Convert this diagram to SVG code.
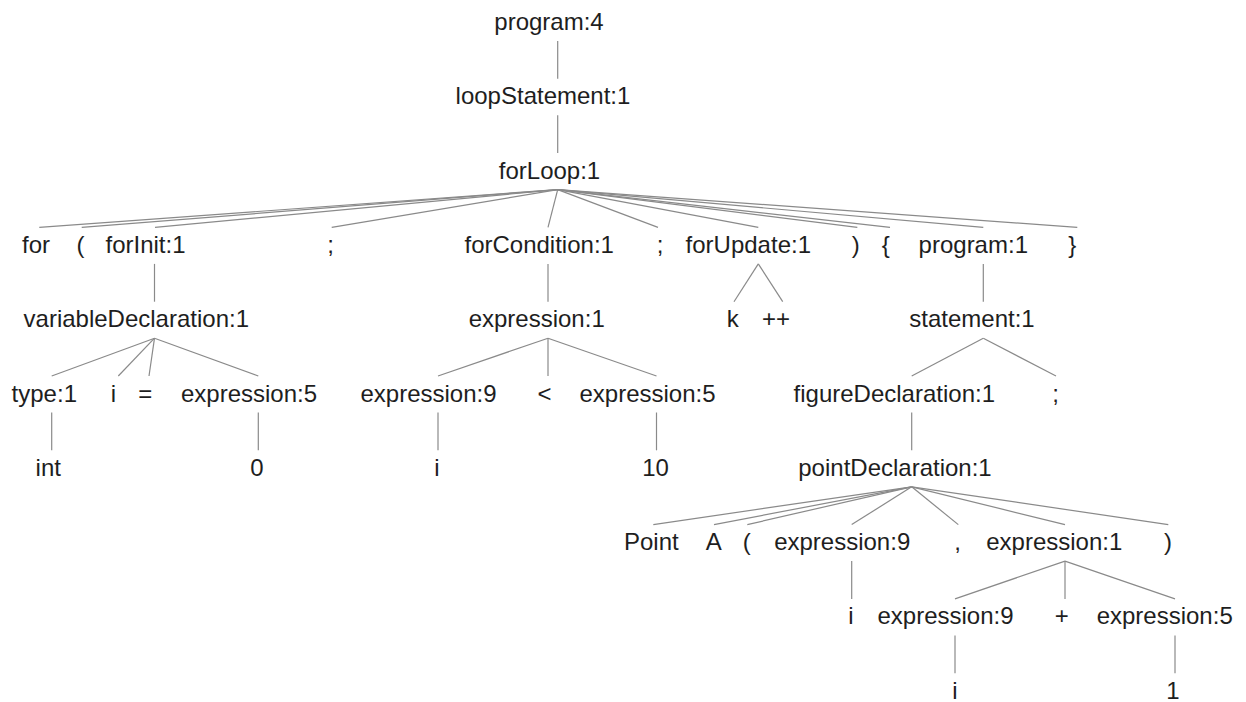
<svg xmlns="http://www.w3.org/2000/svg" width="1246" height="702" viewBox="0 0 1246 702">
<style>
text{font-family:"Liberation Sans",Arial,Helvetica,sans-serif;font-size:24px;fill:#1e1e1e;text-anchor:middle}
#edges line{stroke:#8a8a8a;stroke-width:1.2;fill:none}
</style>
<rect width="1246" height="702" fill="#ffffff"/>
<g id="edges">
<line x1="557.7" y1="41" x2="557.7" y2="78.8"/>
<line x1="557.7" y1="115.3" x2="557.7" y2="153.1"/>
<line x1="557.7" y1="189.6" x2="39.3" y2="227.4"/>
<line x1="557.7" y1="189.6" x2="81.7" y2="227.4"/>
<line x1="557.7" y1="189.6" x2="155" y2="227.4"/>
<line x1="557.7" y1="189.6" x2="331.7" y2="227.4"/>
<line x1="557.7" y1="189.6" x2="548" y2="227.4"/>
<line x1="557.7" y1="189.6" x2="658" y2="227.4"/>
<line x1="557.7" y1="189.6" x2="758.3" y2="227.4"/>
<line x1="557.7" y1="189.6" x2="857.3" y2="227.4"/>
<line x1="557.7" y1="189.6" x2="890" y2="227.4"/>
<line x1="557.7" y1="189.6" x2="983.3" y2="227.4"/>
<line x1="557.7" y1="189.6" x2="1077.3" y2="227.4"/>
<line x1="154.5" y1="263.9" x2="154.5" y2="301.7"/>
<line x1="548" y1="263.9" x2="548" y2="301.7"/>
<line x1="758.3" y1="263.9" x2="734" y2="301.7"/>
<line x1="758.3" y1="263.9" x2="782.7" y2="301.7"/>
<line x1="983.3" y1="263.9" x2="983.3" y2="301.7"/>
<line x1="154.5" y1="338.2" x2="51.7" y2="376"/>
<line x1="154.5" y1="338.2" x2="118.3" y2="376"/>
<line x1="154.5" y1="338.2" x2="149" y2="376"/>
<line x1="154.5" y1="338.2" x2="258.3" y2="376"/>
<line x1="548" y1="338.2" x2="438" y2="376"/>
<line x1="548" y1="338.2" x2="548" y2="376"/>
<line x1="548" y1="338.2" x2="656.5" y2="376"/>
<line x1="983.3" y1="338.2" x2="911.7" y2="376"/>
<line x1="983.3" y1="338.2" x2="1056" y2="376"/>
<line x1="51.7" y1="412.5" x2="51.7" y2="450.3"/>
<line x1="258.3" y1="412.5" x2="258.3" y2="450.3"/>
<line x1="438" y1="412.5" x2="438" y2="450.3"/>
<line x1="656.5" y1="412.5" x2="656.5" y2="450.3"/>
<line x1="911.7" y1="412.5" x2="911.7" y2="450.3"/>
<line x1="911.7" y1="486.8" x2="653.3" y2="524.6"/>
<line x1="911.7" y1="486.8" x2="714" y2="524.6"/>
<line x1="911.7" y1="486.8" x2="747.3" y2="524.6"/>
<line x1="911.7" y1="486.8" x2="851.7" y2="524.6"/>
<line x1="911.7" y1="486.8" x2="958.3" y2="524.6"/>
<line x1="911.7" y1="486.8" x2="1065" y2="524.6"/>
<line x1="911.7" y1="486.8" x2="1168.3" y2="524.6"/>
<line x1="851.7" y1="561.1" x2="851.7" y2="598.9"/>
<line x1="1065" y1="561.1" x2="955" y2="598.9"/>
<line x1="1065" y1="561.1" x2="1065" y2="598.9"/>
<line x1="1065" y1="561.1" x2="1175" y2="598.9"/>
<line x1="955" y1="635.4" x2="955" y2="673.2"/>
<line x1="1175" y1="635.4" x2="1175" y2="673.2"/>
</g>
<g id="n-program4"><text x="549" y="30">program:4</text></g>
<g id="n-loopStatement"><text x="543" y="104.3">loopStatement:1</text></g>
<g id="n-forLoop"><text x="549.5" y="178.6">forLoop:1</text></g>
<g id="n-for"><text x="36" y="252.9">for</text></g>
<g id="n-lparen1"><text x="80.5" y="252.9">(</text></g>
<g id="n-forInit"><text x="145.5" y="252.9">forInit:1</text></g>
<g id="n-semi1"><text x="330.5" y="252.9">;</text></g>
<g id="n-forCondition"><text x="539.2" y="252.9">forCondition:1</text></g>
<g id="n-semi2"><text x="660" y="252.9">;</text></g>
<g id="n-forUpdate"><text x="748.3" y="252.9">forUpdate:1</text></g>
<g id="n-rparen1"><text x="855.7" y="252.9">)</text></g>
<g id="n-lbrace"><text x="885.8" y="252.9">{</text></g>
<g id="n-program1"><text x="973.3" y="252.9">program:1</text></g>
<g id="n-rbrace"><text x="1072.2" y="252.9">}</text></g>
<g id="n-variableDeclaration"><text x="136.3" y="327.2">variableDeclaration:1</text></g>
<g id="n-expression1a"><text x="536.7" y="327.2">expression:1</text></g>
<g id="n-k"><text x="732.8" y="327.2">k</text></g>
<g id="n-plusplus"><text x="776" y="327.2">++</text></g>
<g id="n-statement"><text x="972" y="327.2">statement:1</text></g>
<g id="n-type"><text x="44.3" y="401.5">type:1</text></g>
<g id="n-i1"><text x="113.3" y="401.5">i</text></g>
<g id="n-eq"><text x="145.3" y="401.5">=</text></g>
<g id="n-expression5a"><text x="249" y="401.5">expression:5</text></g>
<g id="n-expression9a"><text x="428.5" y="401.5">expression:9</text></g>
<g id="n-lt"><text x="544.5" y="401.5">&lt;</text></g>
<g id="n-expression5b"><text x="647.5" y="401.5">expression:5</text></g>
<g id="n-figureDeclaration"><text x="894.3" y="401.5">figureDeclaration:1</text></g>
<g id="n-semi3"><text x="1055.5" y="401.5">;</text></g>
<g id="n-int"><text x="48.3" y="475.8">int</text></g>
<g id="n-zero"><text x="257" y="475.8">0</text></g>
<g id="n-i2"><text x="437" y="475.8">i</text></g>
<g id="n-ten"><text x="655.5" y="475.8">10</text></g>
<g id="n-pointDeclaration"><text x="895" y="475.8">pointDeclaration:1</text></g>
<g id="n-Point"><text x="651.3" y="550.1">Point</text></g>
<g id="n-A"><text x="713.8" y="550.1">A</text></g>
<g id="n-lparen2"><text x="746.7" y="550.1">(</text></g>
<g id="n-expression9b"><text x="842.2" y="550.1">expression:9</text></g>
<g id="n-comma"><text x="957.5" y="550.1">,</text></g>
<g id="n-expression1b"><text x="1054.3" y="550.1">expression:1</text></g>
<g id="n-rparen2"><text x="1168" y="550.1">)</text></g>
<g id="n-i3"><text x="851" y="624.4">i</text></g>
<g id="n-expression9c"><text x="945.5" y="624.4">expression:9</text></g>
<g id="n-plus"><text x="1061.7" y="624.4">+</text></g>
<g id="n-expression5c"><text x="1164.7" y="624.4">expression:5</text></g>
<g id="n-i4"><text x="955" y="698.7">i</text></g>
<g id="n-one"><text x="1173" y="698.7">1</text></g>
</svg>
